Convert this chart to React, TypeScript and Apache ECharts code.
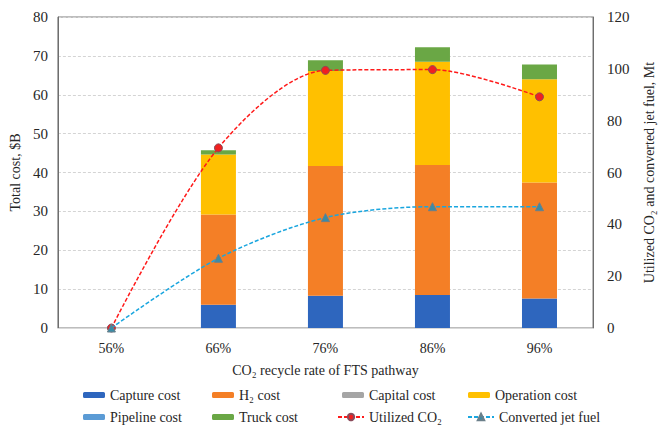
import React, { useEffect, useRef } from "react";
import * as echarts from "echarts";

// Recycle-rate categories and cost breakdown ($B)
const categories = ["56%", "66%", "76%", "86%", "96%"];
const captureCost = [0, 6.0, 8.3, 8.5, 7.6];
const h2Cost = [0, 23.2, 33.4, 33.4, 29.8];
const capitalCost = [0, 0, 0, 0, 0];
const operationCost = [0, 15.4, 24.4, 26.6, 26.6];
const pipelineCost = [0, 0, 0, 0, 0];
const truckCost = [0, 1.1, 2.8, 3.7, 3.8];

// Quantities on the secondary axis (Mt)
const utilizedCO2 = [0, 69.5, 99.4, 99.7, 89.2];
const convertedJetFuel = [0, 26.9, 42.6, 46.8, 46.8];

const FONT = "Liberation Serif, Times New Roman, serif";
const TEXT = "#262626";

export default function App() {
  const ref = useRef<HTMLDivElement>(null);

  useEffect(() => {
    if (!ref.current) return;
    const chart = echarts.init(ref.current, null, { renderer: "svg" });

    const barSeries = [
      { name: "Capture cost", data: captureCost, color: "#2E66BE" },
      { name: "H\u2082 cost", data: h2Cost, color: "#F47F26" },
      { name: "Capital cost", data: capitalCost, color: "#A5A5A5" },
      { name: "Operation cost", data: operationCost, color: "#FFC000" },
      { name: "Pipeline cost", data: pipelineCost, color: "#5B9BD5" },
      { name: "Truck cost", data: truckCost, color: "#6AA745" },
    ].map((s) => ({
      name: s.name,
      type: "bar" as const,
      stack: "cost",
      barWidth: 35,
      data: s.data,
      itemStyle: { color: s.color },
      z: 2,
    }));

    // legend slots: [name, left, top, iconWidth]
    const legendSlots: [string, number, number, number][] = [
      ["Capture cost", 83, 388, 22],
      ["H\u2082 cost", 212, 388, 22],
      ["Capital cost", 342, 388, 22],
      ["Operation cost", 468, 388, 22],
      ["Pipeline cost", 83, 410, 22],
      ["Truck cost", 212, 410, 22],
      ["Utilized CO\u2082", 337, 410, 26],
      ["Converted jet fuel", 467, 410, 26],
    ];

    chart.setOption({
      animation: false,
      textStyle: { fontFamily: FONT },
      grid: {
        left: 55,
        right: 51,
        top: 17,
        bottom: 99,
        show: true,
        borderColor: "#7a7a7a",
        borderWidth: 1,
        backgroundColor: "transparent",
      },
      legend: legendSlots.map(([name, left, top, w]) => ({
        data: [name],
        left,
        top,
        padding: 0,
        itemWidth: w,
        itemHeight: w === 22 ? 6 : 8,
        itemGap: 0,
        textStyle: { fontFamily: FONT, fontSize: 14, color: TEXT, padding: [2, 0, 0, 0] },
      })),
      xAxis: {
        type: "category",
        data: categories,
        axisLine: { lineStyle: { color: "#d9d9d9" } },
        axisTick: { show: false },
        axisLabel: { fontFamily: FONT, fontSize: 14, color: TEXT, margin: 13 },
        name: "CO\u2082 recycle rate of FTS pathway",
        nameLocation: "middle",
        nameGap: 35,
        nameTextStyle: { fontFamily: FONT, fontSize: 14, color: TEXT },
      },
      yAxis: [
        {
          type: "value",
          min: 0,
          max: 80,
          interval: 10,
          axisLine: { show: true, lineStyle: { color: "#6e6e6e" } },
          axisTick: { show: false },
          axisLabel: { fontFamily: FONT, fontSize: 15, color: TEXT, margin: 10 },
          splitLine: { lineStyle: { color: "#d4d4d4", type: [3, 2] } },
          name: "Total cost, $B",
          nameLocation: "middle",
          nameGap: 35,
          nameRotate: 90,
          nameTextStyle: { fontFamily: FONT, fontSize: 14, color: TEXT },
        },
        {
          type: "value",
          min: 0,
          max: 120,
          interval: 20,
          position: "right",
          axisLine: { show: true, lineStyle: { color: "#6e6e6e" } },
          axisTick: { show: false },
          axisLabel: { fontFamily: FONT, fontSize: 15, color: TEXT, margin: 14 },
          splitLine: { show: false },
          name: "Utilized CO\u2082 and converted jet fuel, Mt",
          nameLocation: "middle",
          nameGap: 49,
          nameRotate: 90,
          nameTextStyle: { fontFamily: FONT, fontSize: 14, color: TEXT },
        },
      ],
      series: [
        ...barSeries,
        {
          name: "Utilized CO\u2082",
          type: "line",
          yAxisIndex: 1,
          data: utilizedCO2,
          smooth: 0.3,
          symbol: "circle",
          symbolSize: 8,
          lineStyle: { color: "#FF1A1A", width: 1.5, type: [4, 2] },
          itemStyle: { color: "#F02020", borderColor: "#8a4a5a", borderWidth: 1 },
          z: 4,
        },
        {
          name: "Converted jet fuel",
          type: "line",
          yAxisIndex: 1,
          data: convertedJetFuel,
          smooth: 0.3,
          symbol: "triangle",
          symbolSize: 8,
          lineStyle: { color: "#1AA6DF", width: 1.5, type: [4, 2] },
          itemStyle: { color: "#3A8CA6", borderColor: "#6b7f8a", borderWidth: 1 },
          z: 5,
        },
      ],
    });

    return () => chart.dispose();
  }, []);

  return (
    <div
      ref={ref}
      style={{ position: "fixed", left: 0, top: 0, width: 664, height: 427, background: "#fff" }}
    />
  );
}
